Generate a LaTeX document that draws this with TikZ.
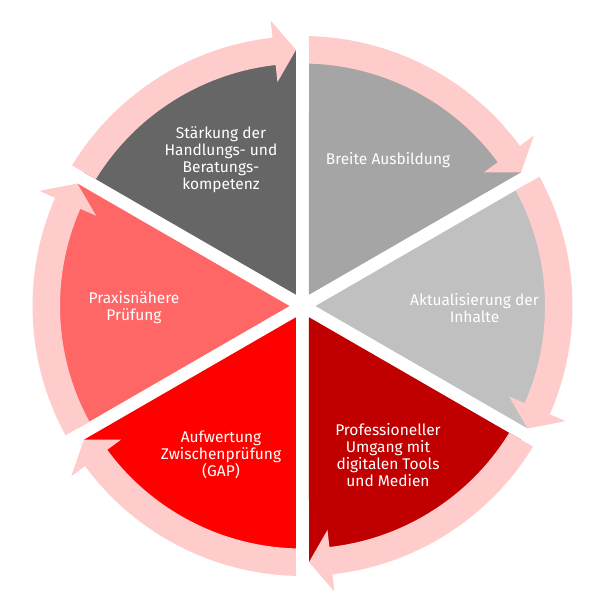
\documentclass[tikz,border=0pt]{standalone}
\usepackage{fontspec}
\setmainfont{Fira Sans}
\definecolor{ringpink}{HTML}{FFCCCC}
\definecolor{cBreite}{HTML}{A5A5A5}
\definecolor{cAktual}{HTML}{C0C0C0}
\definecolor{cProf}{HTML}{C00000}
\definecolor{cAufw}{HTML}{FF0000}
\definecolor{cPraxis}{HTML}{FF6666}
\definecolor{cStaerk}{HTML}{666666}
\newcommand\mysector[2]{%
  \fill[#2, rotate=#1] (90:13pt) -- ({60+asin(6.5/256)}:256pt)
    arc[start angle={60+asin(6.5/256)}, end angle={120-asin(6.5/256)}, radius=256pt] -- cycle;}
\newcommand\myarrow[1]{%
  \pgfmathsetmacro\ao{120-asin(6.5/270)}%
  \pgfmathsetmacro\ai{120-asin(6.5/242.5)}%
  \pgfmathsetmacro\at{60+asin(6.5/256.25)}%
  \pgfmathsetmacro\ab{\at+22/256.25*180/pi}%
  \fill[ringpink, rotate=#1] (\ao:270pt)
    arc[start angle=\ao, end angle=\ab, radius=270pt]
    -- (\ab:287.25pt) -- (\at:256.25pt) -- (\ab:225.25pt) -- (\ab:242.5pt)
    arc[start angle=\ab, end angle=\ai, radius=242.5pt] -- cycle;}
\begin{document}
\begin{tikzpicture}[x=1pt,y=1pt,
  lbl/.style={text=white, align=center, inner sep=0pt, font=\fontsize{15.5}{17}\selectfont}]
\useasboundingbox (-302.5,-294) rectangle (297.5,306);
% sectors
\mysector{-30}{cBreite}
\mysector{-90}{cAktual}
\mysector{-150}{cProf}
\mysector{150}{cAufw}
\mysector{90}{cPraxis}
\mysector{30}{cStaerk}
% ring arrows
\foreach \r in {-30,-90,-150,150,90,30} {\myarrow{\r}}
% labels
\node[lbl] (staerk) at (-81.5,146) {Stärkung der\\Handlungs- und\\Beratungs-\\kompetenz};
\node[lbl] (breite) at (85.5,146) {Breite Ausbildung};
\node[lbl] (aktual) at (172,-2) {Aktualisierung der\\Inhalte};
\node[lbl] (prof) at (85.5,-149.5) {Professioneller\\Umgang mit\\digitalen Tools\\und Medien};
\node[lbl] (aufw) at (-81.5,-149) {Aufwertung\\Zwischenprüfung\\(GAP)};
\node[lbl] (praxis) at (-168.5,-2) {Praxisnähere\\Prüfung};
\end{tikzpicture}
\end{document}
